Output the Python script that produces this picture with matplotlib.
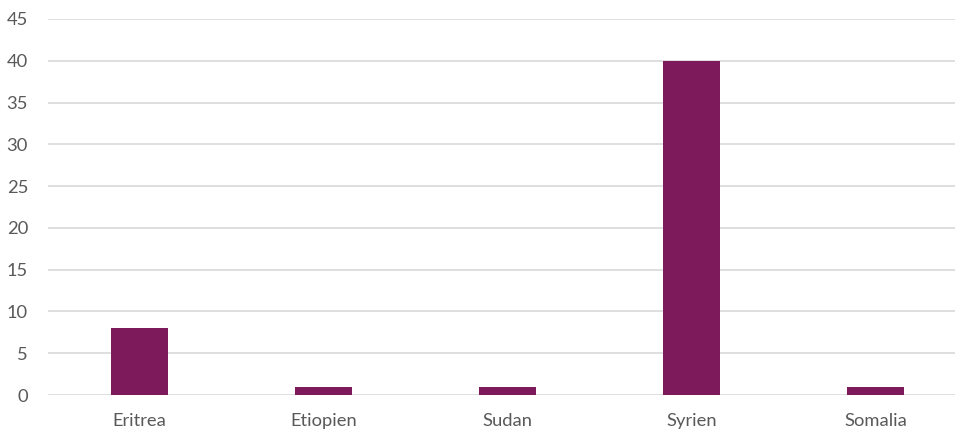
import matplotlib.pyplot as plt

countries = ["Eritrea", "Etiopien", "Sudan", "Syrien", "Somalia"]
values = [8, 1, 1, 40, 1]
yticks = [0, 5, 10, 15, 20, 25, 30, 35, 40, 45]

plt.rcParams['font.family'] = ['Lato', 'DejaVu Sans']

fig = plt.figure(figsize=(9.55, 4.3), dpi=100)
# plot area runs past the right edge of the picture, as in the original
ax = fig.add_axes([47.5 / 955, 35 / 430, 920 / 955, 376 / 430])

x = list(range(len(countries)))
ax.bar(x, values, width=0.31, color="#7D1A5C", zorder=3)

ax.set_xlim(-0.5, len(countries) - 0.5)
ax.set_ylim(0, 45)
ax.set_yticks(yticks)
ax.set_xticks(x)
ax.set_xticklabels(countries)

ax.yaxis.grid(True, color="#D9D9D9", linewidth=1.2, zorder=0)
for s in ax.spines.values():
    s.set_visible(False)
ax.tick_params(axis='both', length=0, labelsize=13.2, labelcolor="#595959")
ax.tick_params(axis='y', pad=14)
ax.tick_params(axis='x', pad=13)

fig.savefig("out.png", dpi=100)
